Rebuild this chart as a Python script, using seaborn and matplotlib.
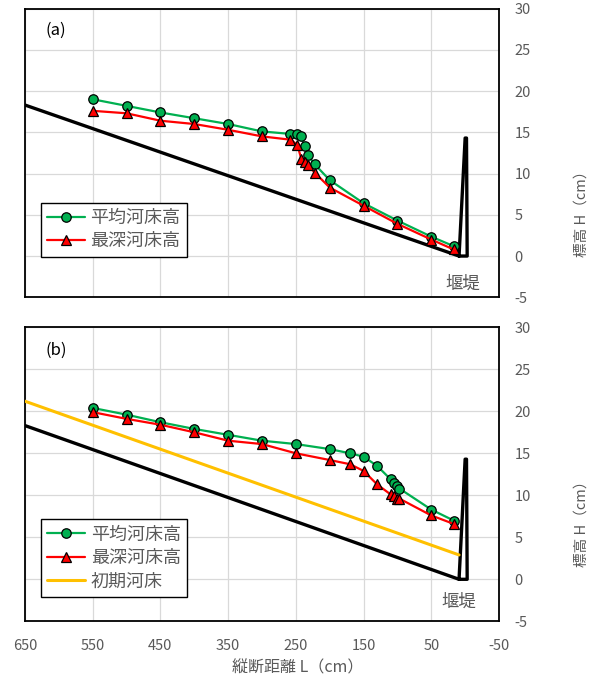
import matplotlib
matplotlib.use("Agg")
import matplotlib.pyplot as plt
import seaborn as sns
import numpy as np

sns.set_theme(style="white")
plt.rcParams['font.family'] = ['Noto Sans CJK JP', 'DejaVu Sans']
plt.rcParams['axes.unicode_minus'] = False

# ---------------- data ----------------
xticks = [650, 550, 450, 350, 250, 150, 50, -50]
yticks = [-5, 0, 5, 10, 15, 20, 25, 30]

# panel (a)
a_L = [550, 500, 450, 400, 350, 300, 258, 248, 242, 237, 232, 222, 200, 150, 100, 50, 17]
a_mean = [19.0, 18.2, 17.4, 16.7, 16.0, 15.1, 14.8, 14.8, 14.5, 13.3, 12.2, 11.1, 9.2, 6.4, 4.3, 2.35, 1.2]
a_deep = [17.6, 17.3, 16.4, 16.0, 15.3, 14.5, 14.1, 13.5, 11.8, 11.4, 11.0, 10.1, 8.3, 6.1, 3.9, 2.0, 0.8]

# panel (b)
b_L = [550, 500, 450, 400, 350, 300, 250, 200, 170, 150, 130, 110, 105, 100, 97, 50, 17]
b_mean = [20.4, 19.6, 18.7, 17.9, 17.2, 16.5, 16.1, 15.5, 15.0, 14.6, 13.5, 11.9, 11.5, 11.1, 10.8, 8.3, 7.0]
b_deep = [19.9, 19.1, 18.4, 17.5, 16.5, 16.1, 15.0, 14.2, 13.7, 12.9, 11.3, 10.1, 9.9, 9.6, 9.6, 7.6, 6.6]

# fixed bed with weir
bed_L = [650, 9, 0, -2, -3, 9]
bed_H = [18.3, 0, 14.3, 14.3, 0, 0]

# initial bed (b)
init_L = [650, 9]
init_H = [21.2, 2.9]

names = ['平均河床高', '最深河床高', '初期河床']
GREEN = '#00B050'
RED = '#FF0000'
YELLOW = '#FFC000'
GRAY = '#595959'

fig = plt.figure(figsize=(5.94, 6.79), dpi=100)
ax1 = fig.add_axes([25/594, 1-297.3/679, 474/594, 288.8/679])
ax2 = fig.add_axes([25/594, 1-621.3/679, 474/594, 294/679])


def style(ax, show_x):
    ax.set_xlim(650, -50)
    ax.set_ylim(-5, 30)
    ax.set_xticks(xticks)
    ax.set_yticks(yticks)
    ax.yaxis.tick_right()
    ax.grid(True, color='#d9d9d9', lw=0.9, zorder=0)
    ax.set_axisbelow(True)
    for s in ax.spines.values():
        s.set_visible(True)
        s.set_color('black')
        s.set_linewidth(1.3)
    ax.tick_params(axis='y', length=0, pad=11, labelsize=10.5, labelcolor=GRAY)
    ax.tick_params(axis='x', length=0, pad=13, labelsize=10.5, labelcolor=GRAY)
    if not show_x:
        ax.tick_params(axis='x', labelbottom=False)
    ax.set_xlabel('')
    ax.set_ylabel('')


def draw(ax, L, mean, deep, with_init):
    sns.lineplot(x=bed_L, y=bed_H, sort=False, estimator=None, color='black',
                 lw=2.4, ax=ax, legend=False, solid_joinstyle='round', zorder=2)
    if with_init:
        sns.lineplot(x=init_L, y=init_H, sort=False, estimator=None, color=YELLOW,
                     lw=2.2, ax=ax, label=names[2], zorder=3)
    sns.lineplot(x=L, y=mean, sort=False, estimator=None, color=GREEN, lw=1.6,
                 marker='o', markersize=6.8, markeredgecolor='black', markeredgewidth=0.9,
                 markerfacecolor=GREEN, ax=ax, label=names[0], zorder=4)
    sns.lineplot(x=L, y=deep, sort=False, estimator=None, color=RED, lw=1.6,
                 marker='^', markersize=6.8, markeredgecolor='black', markeredgewidth=0.9,
                 markerfacecolor=RED, ax=ax, label=names[1], zorder=5)


draw(ax1, a_L, a_mean, a_deep, False)
draw(ax2, b_L, b_mean, b_deep, True)
style(ax1, False)
style(ax2, True)

for ax, anchor in [(ax1, (0.033, 0.1406)), (ax2, (0.0338, 0.0837))]:
    h, l = ax.get_legend_handles_labels()
    d = dict(zip(l, h))
    labs = [n for n in names if n in d]
    leg = ax.legend([d[n] for n in labs], labs, loc='lower left', bbox_to_anchor=anchor,
                    borderaxespad=0, frameon=True, fancybox=False, edgecolor='black',
                    fontsize=13, labelcolor=GRAY, handlelength=2.1, handletextpad=0.3,
                    labelspacing=0.3, borderpad=0.35)
    leg.get_frame().set_linewidth(1.0)
    leg.get_frame().set_facecolor('white')
    leg.get_frame().set_alpha(1)
    leg.set_zorder(10)

ax1.text(0.065, 0.923, '(a)', transform=ax1.transAxes, ha='center', va='center',
         fontsize=12, color='black')
ax2.text(0.065, 0.923, '(b)', transform=ax2.transAxes, ha='center', va='center',
         fontsize=12, color='black')
ax1.text(0.924, 0.0485, '堰堤', transform=ax1.transAxes, ha='center', va='center',
         fontsize=12.5, color=GRAY)
ax2.text(0.9156, 0.0667, '堰堤', transform=ax2.transAxes, ha='center', va='center',
         fontsize=12.5, color=GRAY)

fig.text(582/594, 1-210/679, '標高 H（cm）', rotation=90, ha='center', va='center',
         fontsize=10.5, color=GRAY)
fig.text(582/594, 1-520/679, '標高 H（cm）', rotation=90, ha='center', va='center',
         fontsize=10.5, color=GRAY)
fig.text(298/594, 1-668/679, '縦断距離 L（cm）', ha='center', va='center',
         fontsize=11.5, color=GRAY)

fig.savefig('out.png', dpi=100, facecolor='white')
